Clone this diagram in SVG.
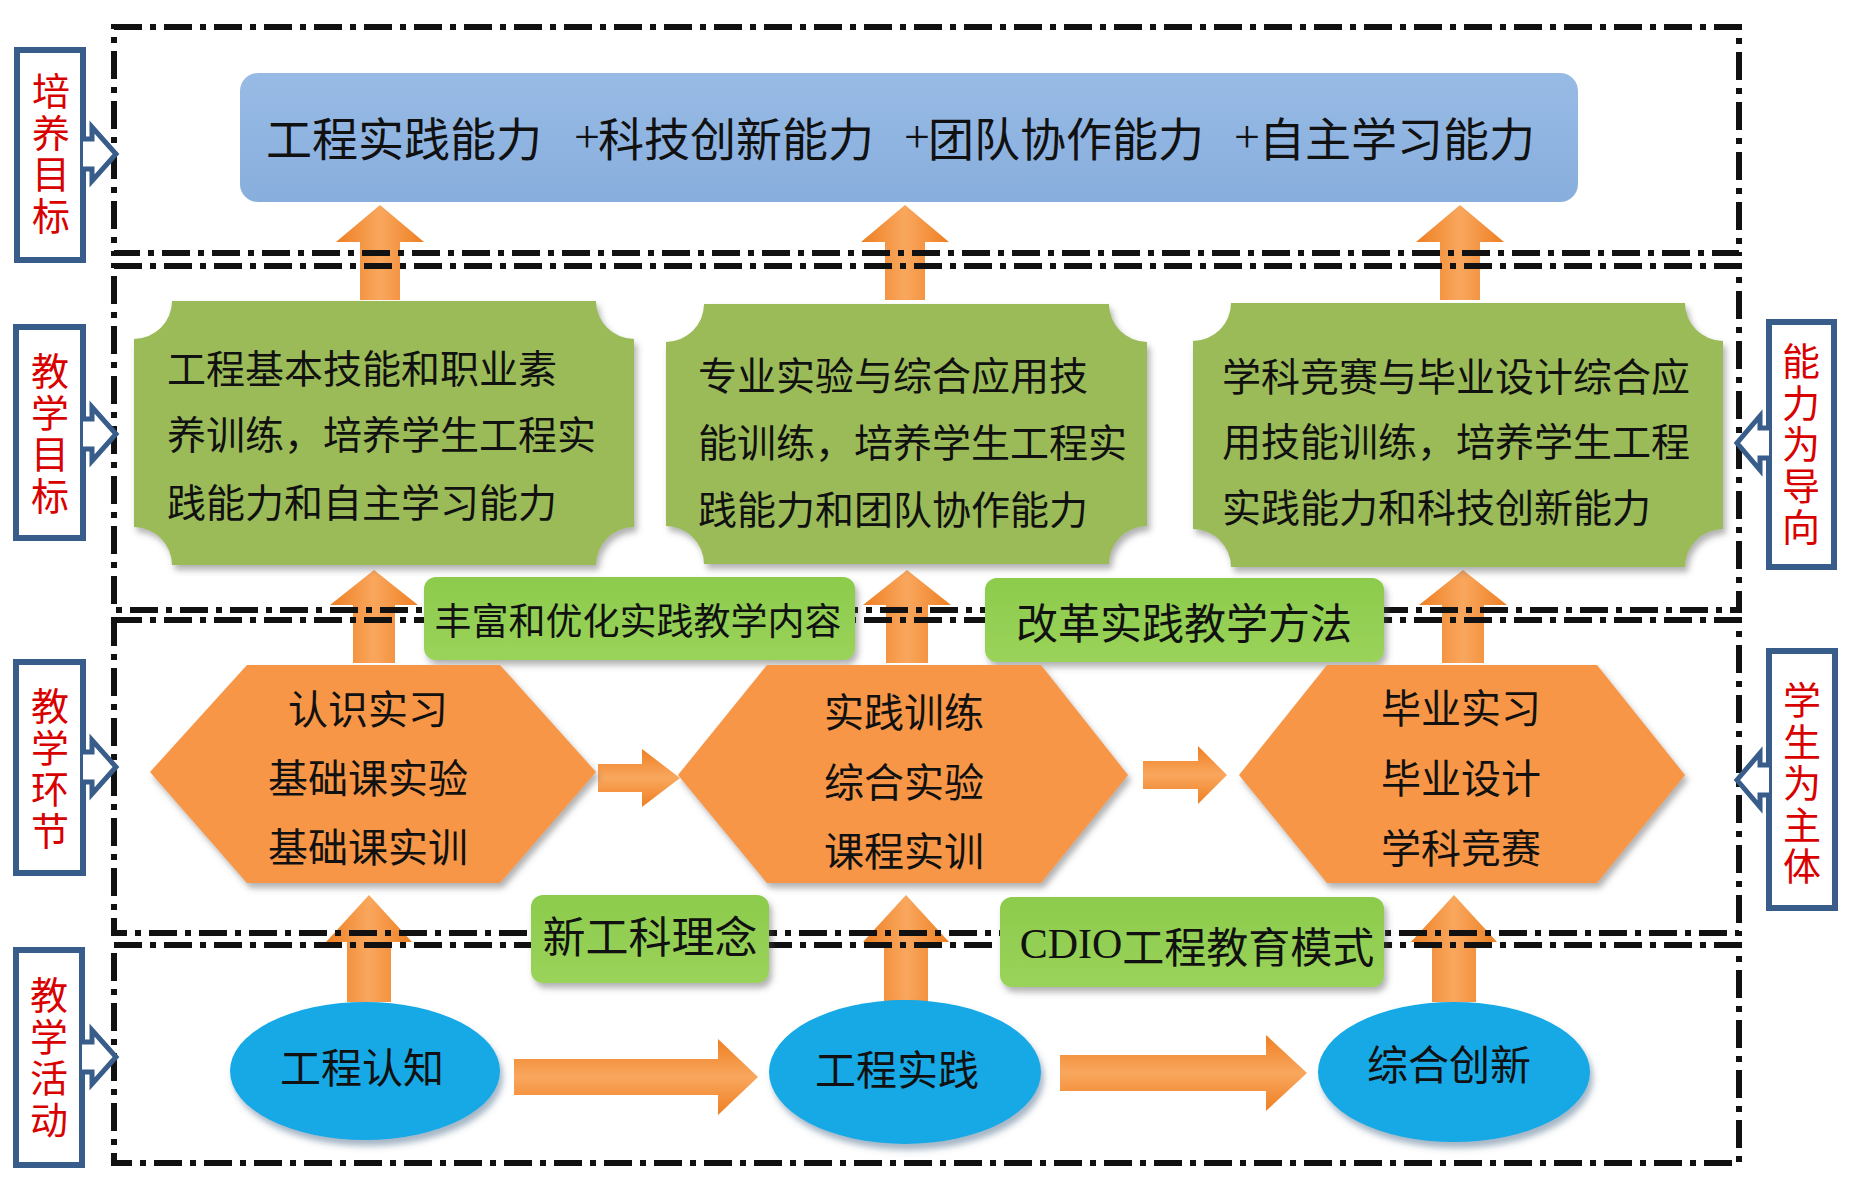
<svg xmlns="http://www.w3.org/2000/svg" width="1849" height="1181" viewBox="0 0 1849 1181">
<style>
.frame{fill:none;stroke:#111;stroke-width:6;stroke-dasharray:28 8 6 8}
.lbl{fill:#fff;stroke:#385D8A;stroke-width:6}
.lblarr{fill:#fff;stroke:#385D8A;stroke-width:5;stroke-linejoin:miter}
.red{font-family:"Noto Sans CJK SC",sans-serif;font-size:38px;fill:#D90000;writing-mode:vertical-rl;letter-spacing:3.5px}
.t{font-family:"Noto Sans CJK SC",sans-serif;fill:#111;dominant-baseline:central}
.mid{text-anchor:middle}
.plaque{fill:#9BBB59;filter:url(#sh)}
.glabel{fill:url(#gg);filter:url(#sh)}
.hex{fill:#F79646;filter:url(#sh)}
.ell{fill:#12A9E6;filter:url(#she)}
.up{fill:url(#og)}
.rt{fill:url(#ogv)}
</style>
<defs>
<filter id="sh" x="-10%" y="-10%" width="125%" height="135%">
<feDropShadow dx="3" dy="5" stdDeviation="3" flood-color="#555" flood-opacity="0.45"/>
</filter>
<filter id="she" x="-10%" y="-10%" width="125%" height="135%">
<feDropShadow dx="3" dy="6" stdDeviation="3" flood-color="#4A6A8A" flood-opacity="0.5"/>
</filter>
<linearGradient id="og" x1="0" y1="0" x2="1" y2="0">
<stop offset="0" stop-color="#EE7F22"/>
<stop offset="0.5" stop-color="#F9A75E"/>
<stop offset="1" stop-color="#EE7F22"/>
</linearGradient>
<linearGradient id="ogv" x1="0" y1="0" x2="0" y2="1">
<stop offset="0" stop-color="#EE7F22"/>
<stop offset="0.5" stop-color="#F9A75E"/>
<stop offset="1" stop-color="#EE7F22"/>
</linearGradient>
<linearGradient id="gg" x1="0" y1="0" x2="0" y2="1">
<stop offset="0" stop-color="#8CCB4C"/>
<stop offset="1" stop-color="#9AD35A"/>
</linearGradient>
<linearGradient id="bg" x1="0" y1="0" x2="0" y2="1">
<stop offset="0" stop-color="#98BBE5"/>
<stop offset="1" stop-color="#88AEDD"/>
</linearGradient>
</defs>

<rect width="1849" height="1181" fill="#fff"/>

<g id="connectors">
<path class="up" d="M380,205 L424,242 L400,242 L400,300 L360,300 L360,242 L336,242 Z"/>
<path class="up" d="M905,205 L949,242 L925,242 L925,300 L885,300 L885,242 L861,242 Z"/>
<path class="up" d="M1460,205 L1504,242 L1480,242 L1480,300 L1440,300 L1440,242 L1416,242 Z"/>
<path class="up" d="M374,570 L418,605 L395,605 L395,663 L353,663 L353,605 L330,605 Z"/>
<path class="up" d="M907,570 L951,605 L928,605 L928,663 L886,663 L886,605 L863,605 Z"/>
<path class="up" d="M1463,570 L1507,605 L1484,605 L1484,663 L1442,663 L1442,605 L1419,605 Z"/>
<path class="up" d="M369,895 L412,942 L391,942 L391,1002 L347,1002 L347,942 L326,942 Z"/>
<path class="up" d="M906,895 L949,942 L928,942 L928,1002 L884,1002 L884,942 L863,942 Z"/>
<path class="up" d="M1454,895 L1497,942 L1476,942 L1476,1002 L1432,1002 L1432,942 L1411,942 Z"/>
<path class="rt" d="M598,764 L642,764 L642,749 L680,778 L642,807 L642,792 L598,792 Z"/>
<path class="rt" d="M1143,761 L1198,761 L1198,746 L1227,775 L1198,804 L1198,789 L1143,789 Z"/>
<path class="rt" d="M514,1059 L718,1059 L718,1039 L758,1077 L718,1115 L718,1095 L514,1095 Z"/>
<path class="rt" d="M1060,1055 L1266,1055 L1266,1035 L1307,1073 L1266,1111 L1266,1091 L1060,1091 Z"/>
</g>

<g id="frames">
<rect class="frame" x="114" y="27" width="1625" height="226"/>
<rect class="frame" x="114" y="266" width="1625" height="344"/>
<rect class="frame" x="114" y="620" width="1625" height="313"/>
<rect class="frame" x="114" y="945" width="1625" height="218"/>
</g>

<g id="label-peiyang">
<rect class="lbl" x="17" y="50" width="66" height="210"/>
<path class="lblarr" d="M83,139 L92,139 L92,127 L116,154 L92,181 L92,169 L83,169"/>
<text class="red" x="51" y="72">培养目标</text>
</g>
<g id="label-jiaoxuemubiao">
<rect class="lbl" x="16" y="327" width="67" height="211"/>
<path class="lblarr" d="M83,419 L92,419 L92,407 L116,434 L92,461 L92,449 L83,449"/>
<text class="red" x="50" y="352">教学目标</text>
</g>
<g id="label-jiaoxuehuanjie">
<rect class="lbl" x="16" y="662" width="67" height="211"/>
<path class="lblarr" d="M83,752 L92,752 L92,740 L116,767 L92,794 L92,782 L83,782"/>
<text class="red" x="50" y="687">教学环节</text>
</g>
<g id="label-jiaoxuehuodong">
<rect class="lbl" x="16" y="950" width="66" height="215"/>
<path class="lblarr" d="M82,1042 L92,1042 L92,1030 L116,1057 L92,1084 L92,1072 L82,1072"/>
<text class="red" x="49" y="976">教学活动</text>
</g>
<g id="label-nengli">
<rect class="lbl" x="1769" y="322" width="65" height="245"/>
<path class="lblarr" d="M1769,428 L1760,428 L1760,416 L1737,443 L1760,470 L1760,458 L1769,458"/>
<text class="red" x="1801" y="342">能力为导向</text>
</g>
<g id="label-xuesheng">
<rect class="lbl" x="1769" y="651" width="66" height="257"/>
<path class="lblarr" d="M1769,765 L1760,765 L1760,753 L1737,780 L1760,807 L1760,795 L1769,795"/>
<text class="red" x="1802" y="681">学生为主体</text>
</g>

<g id="goal">
<rect x="240" y="73" width="1338" height="129" rx="18" fill="url(#bg)"/>
<text class="t" font-size="46" y="136"><tspan x="266">工程实践能力</tspan><tspan x="574" font-family="Liberation Serif">+</tspan><tspan x="598">科技创新能力</tspan><tspan x="904" font-family="Liberation Serif">+</tspan><tspan x="928">团队协作能力</tspan><tspan x="1234" font-family="Liberation Serif">+</tspan><tspan x="1259">自主学习能力</tspan></text>
</g>

<g id="plaque1">
<path class="plaque" d="M172,301 L596,301 A38,38 0 0 0 634,339 L634,527 A38,38 0 0 0 596,565 L172,565 A38,38 0 0 0 134,527 L134,339 A38,38 0 0 0 172,301 Z"/>
<text class="t" font-size="39"><tspan x="167" y="366">工程基本技能和职业素</tspan><tspan x="167" y="432">养训练，培养学生工程实</tspan><tspan x="167" y="500">践能力和自主学习能力</tspan></text>
</g>
<g id="plaque2">
<path class="plaque" d="M704,304 L1109,304 A38,38 0 0 0 1147,342 L1147,526 A38,38 0 0 0 1109,564 L704,564 A38,38 0 0 0 666,526 L666,342 A38,38 0 0 0 704,304 Z"/>
<text class="t" font-size="39"><tspan x="698" y="373">专业实验与综合应用技</tspan><tspan x="698" y="440">能训练，培养学生工程实</tspan><tspan x="698" y="507">践能力和团队协作能力</tspan></text>
</g>
<g id="plaque3">
<path class="plaque" d="M1231,303 L1685,303 A38,38 0 0 0 1723,341 L1723,529 A38,38 0 0 0 1685,567 L1231,567 A38,38 0 0 0 1193,529 L1193,341 A38,38 0 0 0 1231,303 Z"/>
<text class="t" font-size="39"><tspan x="1222" y="374">学科竞赛与毕业设计综合应</tspan><tspan x="1222" y="439">用技能训练，培养学生工程</tspan><tspan x="1222" y="505">实践能力和科技创新能力</tspan></text>
</g>

<g id="label-fengfu">
<rect class="glabel" x="424" y="577" width="431" height="83" rx="12"/>
<text class="t mid" font-size="37" x="638" y="619">丰富和优化实践教学内容</text>
</g>
<g id="label-gaige">
<rect class="glabel" x="985" y="578" width="399" height="84" rx="12"/>
<text class="t mid" font-size="42" x="1184" y="620">改革实践教学方法</text>
</g>

<g id="hex1">
<path class="hex" d="M150,772 L247,665 L500,665 L596,772 L500,883 L247,883 Z"/>
<text class="t mid" font-size="40"><tspan x="368" y="707">认识实习</tspan><tspan x="368" y="776">基础课实验</tspan><tspan x="368" y="845">基础课实训</tspan></text>
</g>
<g id="hex2">
<path class="hex" d="M678,775 L767,665 L1041,665 L1128,775 L1041,883 L767,883 Z"/>
<text class="t mid" font-size="40"><tspan x="904" y="710">实践训练</tspan><tspan x="904" y="780">综合实验</tspan><tspan x="904" y="849">课程实训</tspan></text>
</g>
<g id="hex3">
<path class="hex" d="M1239,775 L1327,665 L1597,665 L1685,775 L1597,883 L1327,883 Z"/>
<text class="t mid" font-size="40"><tspan x="1461" y="706">毕业实习</tspan><tspan x="1461" y="776">毕业设计</tspan><tspan x="1461" y="846">学科竞赛</tspan></text>
</g>

<g id="label-xingongke">
<rect class="glabel" x="531" y="895" width="238" height="88" rx="12"/>
<text class="t mid" font-size="43" x="650" y="934">新工科理念</text>
</g>
<g id="label-cdio">
<rect class="glabel" x="1000" y="897" width="384" height="90" rx="12"/>
<text class="t mid" font-size="42" x="1197" y="944"><tspan font-family="Liberation Serif">CDIO</tspan>工程教育模式</text>
</g>

<g id="ellipse1">
<ellipse class="ell" cx="365" cy="1071" rx="135" ry="69"/>
<text class="t mid" font-size="41" x="362" y="1065">工程认知</text>
</g>
<g id="ellipse2">
<ellipse class="ell" cx="905" cy="1072" rx="136" ry="72"/>
<text class="t mid" font-size="41" x="897" y="1067">工程实践</text>
</g>
<g id="ellipse3">
<ellipse class="ell" cx="1454" cy="1072" rx="136" ry="70"/>
<text class="t mid" font-size="41" x="1449" y="1062">综合创新</text>
</g>
</svg>
